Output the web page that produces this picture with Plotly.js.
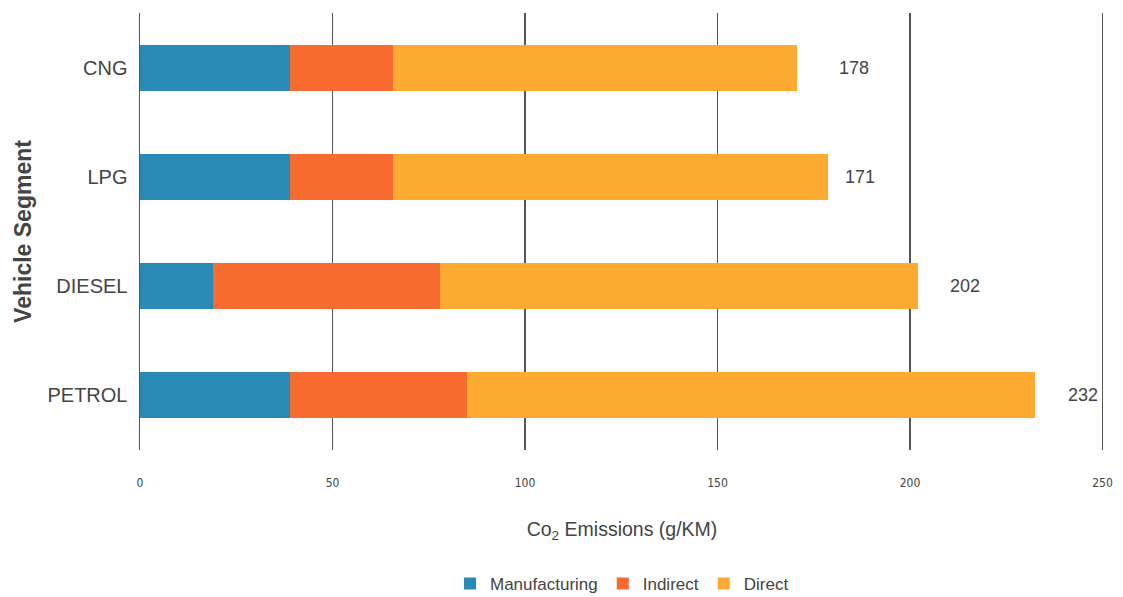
<!DOCTYPE html>
<html>
<head>
<meta charset="utf-8">
<script src="https://cdn.plot.ly/plotly-3.0.1.min.js"></script>
<style>html,body{margin:0;padding:0;background:#fff;}#chart{width:1123px;height:597px;}</style>
</head>
<body>
<div id="chart"></div>
<script>
const categories = ['CNG', 'LPG', 'DIESEL', 'PETROL'];
const manufacturing = [39, 39, 19, 39];
const indirect = [26.6, 26.6, 59, 46];
const direct = [105, 113, 124, 147.5];
const totalLabels = ['178', '171', '202', '232'];
const xTicks = [0, 50, 100, 150, 200, 250];

const labelShift = [40, 15, 30, 31];

const colors = {Manufacturing: '#2a8ab6', Indirect: '#f86b30', Direct: '#fcaa32'};
const font = 'Liberation Sans, Arial, sans-serif';
const narrow = 'Liberation Sans Narrow, DejaVu Sans Condensed, Arial Narrow, sans-serif';

function mk(name, vals) {
  return {type: 'bar', orientation: 'h', name: name, y: categories, x: vals,
    marker: {color: colors[name]}, hoverinfo: 'x+name'};
}
const traces = [mk('Manufacturing', manufacturing), mk('Indirect', indirect), mk('Direct', direct)];

const totals = categories.map((c, i) => manufacturing[i] + indirect[i] + direct[i]);
const annotations = categories.map((c, i) => ({
  x: totals[i], y: c, xref: 'x', yref: 'y', text: totalLabels[i], showarrow: false,
  xanchor: 'left', xshift: labelShift[i], font: {family: font, size: 18, color: '#444'}
}));

const layout = {
  width: 1123, height: 597,
  margin: {l: 140, r: 19, t: 13, b: 147},
  paper_bgcolor: '#fff', plot_bgcolor: '#fff',
  barmode: 'stack', bargap: 0.58,
  font: {family: font, color: '#444'},
  xaxis: {
    range: [0, 250.4], tickvals: xTicks, ticktext: xTicks.map(String),
    showgrid: true, gridcolor: '#555', gridwidth: 1.5, zeroline: false,
    showline: false, ticks: '', ticklabelstandoff: 24,
    tickfont: {family: narrow, size: 12, color: '#444'},
    title: {text: 'Co<sub>2</sub> Emissions (g/KM)', font: {family: font, size: 19.5, color: '#444'}, standoff: 33},
    automargin: false, fixedrange: true
  },
  yaxis: {
    type: 'category', autorange: 'reversed', showgrid: false, zeroline: false,
    showline: true, linecolor: '#555', linewidth: 1.5,
    ticks: '', ticklabelstandoff: 7,
    tickfont: {family: font, size: 20, color: '#444'},
    title: {text: '<b>Vehicle Segment</b>', font: {family: font, size: 23, color: '#444'}, standoff: 9},
    automargin: false, fixedrange: true
  },
  legend: {orientation: 'h', x: 0.5, xanchor: 'center', xref: 'paper',
    yref: 'container', y: 0.022, yanchor: 'middle',
    font: {family: font, size: 17, color: '#444'}, traceorder: 'normal', itemwidth: 30},
  annotations: annotations,
  showlegend: true
};
Plotly.newPlot('chart', traces, layout, {displayModeBar: false, staticPlot: true});
</script>
</body>
</html>
